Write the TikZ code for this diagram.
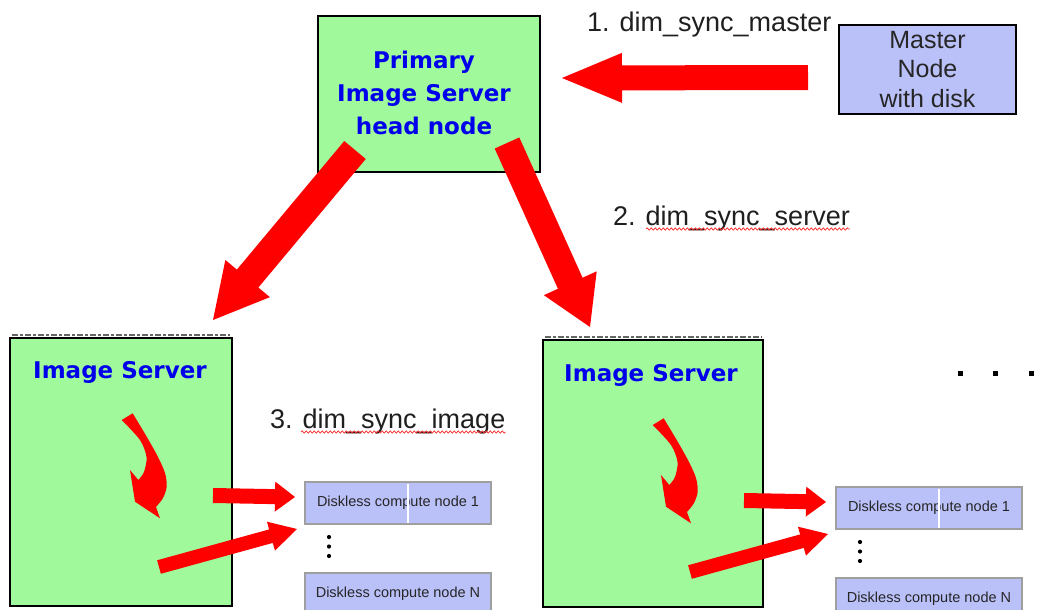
\documentclass[tikz,border=0pt]{standalone}
\usepackage{fontspec}
\setmainfont{Liberation Sans}
\newfontfamily\headfont{DejaVu Sans}
\usetikzlibrary{calc,decorations.pathmorphing}
\definecolor{boxgreen}{RGB}{160,250,156}
\definecolor{boxblue}{RGB}{186,192,248}
\definecolor{arrowred}{RGB}{255,0,0}
\definecolor{titleblue}{RGB}{0,0,235}
\newcommand{\blockarrow}[5]{%
  \coordinate (ba-h) at ($(#2)!#5!(#1)$);
  \fill[arrowred] ($(#1)!#3!90:(#2)$) -- ($(ba-h)!#3!90:(#2)$) -- ($(ba-h)!#4!90:(#2)$) -- (#2)
    -- ($(ba-h)!#4!-90:(#2)$) -- ($(ba-h)!#3!-90:(#2)$) -- ($(#1)!#3!-90:(#2)$) -- cycle;}
\newcommand{\rackparts}[1]{%
  \fill[arrowred] (121.7,420) -- plot[smooth] coordinates {(132.7,413.3) (146.7,436.7) (158,457) (165,473) (166.7,486.7) (163,498) (156,507)}
    -- (160,518.3) -- (135,501.7) -- (130,470) -- (138.3,480)
    -- plot[smooth] coordinates {(138.3,480) (144,472) (146.5,457) (140,440) (121.7,420)} -- cycle;
  \coordinate (#1-at) at (213,495.5); \coordinate (#1-ah) at (295,497);
  \blockarrow{#1-at}{#1-ah}{7.5pt}{15pt}{20pt}
  \coordinate (#1-bt) at (159,567); \coordinate (#1-bh) at (297,529);
  \blockarrow{#1-bt}{#1-bh}{7pt}{15pt}{27pt}
  \node[disk] (#1-d1) at (398,503) {Diskless compute node 1};
  \draw[white, line width=1.5pt] (408,483.5) -- (408,522.5);
  \node[disk] (#1-dn) at (398,594) {Diskless compute node N};
  \foreach \yy in {537,546.5,556} \fill[black] (329,\yy) circle (2.1pt);
}
\begin{document}
\begin{tikzpicture}[x=1pt,y=-1pt,
  greenbox/.style={draw=black, line width=2.5pt, fill=boxgreen},
  masterbox/.style={draw=black, line width=2pt, fill=boxblue, align=center, text=black!85,
    font=\fontsize{25}{29.5}\selectfont},
  disk/.style={draw=gray!75, line width=1.2pt, fill=boxblue, minimum width=186pt, minimum height=42pt,
    inner sep=0pt, text=black!85, font=\fontsize{14.5}{16}\selectfont},
  title/.style={text=titleblue, align=center, inner sep=0pt, font=\headfont\bfseries\fontsize{23}{33}\selectfont},
  lbl/.style={anchor=base west, inner sep=0pt, text=black!88, font=\fontsize{27}{32}\selectfont},
  squig/.style={draw=red!85, line width=0.7pt, decorate, decoration={snake, segment length=4pt, amplitude=1.1pt}},
  artifact/.style={draw=black!60, line width=1.2pt, dash pattern=on 6pt off 2pt on 3pt off 2pt}]
\clip (0,0) rectangle (1060,610);
\fill[white] (0,0) rectangle (1060,610);

% primary image server
\node[greenbox, minimum width=222pt, minimum height=156pt] (primary) at (429,94) {};
\node[title] (primary-t) at (424,93) {Primary\\Image Server\\head node};

% master node
\node[masterbox, minimum width=177pt, minimum height=89pt] (master) at (927.5,69.5) {Master\\Node\\with disk};

% labels
\node[lbl] (l1) at (587,32) {1. dim\_sync\_master};
\node[lbl] (l2) at (613,225) {2. dim\_sync\_server};
\node[lbl] (l3) at (270,428) {3. dim\_sync\_image};
\draw[squig] ($(l2.base west)+(33,4)$) -- ($(l2.base east)+(0,4)$);
\draw[squig] ($(l3.base west)+(31,4)$) -- ($(l3.base east)+(0,4)$);

% image servers
\draw[artifact] (12,335) -- (230,335);
\draw[artifact] (545,337) -- (762,337);
\node[greenbox, minimum width=222pt, minimum height=268pt] (isl) at (121,472) {};
\node[title] (isl-t) at (120,372) {Image Server};
\node[greenbox, minimum width=220pt, minimum height=267pt] (isr) at (653,473.5) {};
\node[title] (isr-t) at (651,375) {Image Server};

% big arrows
\coordinate (a1t) at (808,77.5); \coordinate (a1h) at (562,78);
\blockarrow{a1t}{a1h}{12.5pt}{25pt}{60pt}
\coordinate (a2t) at (355,150); \coordinate (a2h) at (213,320);
\blockarrow{a2t}{a2h}{14pt}{29pt}{54pt}
\coordinate (a3t) at (507,143); \coordinate (a3h) at (590,327);
\blockarrow{a3t}{a3h}{13.5pt}{29pt}{48pt}

% inner parts
\rackparts{L}
\begin{scope}[shift={(531,5)}]
\rackparts{R}
\end{scope}

% ellipsis
\foreach \xx in {960,995.5,1031,1062} \fill[black] (\xx-2.5,370.5) rectangle +(5,5);
\end{tikzpicture}
\end{document}
